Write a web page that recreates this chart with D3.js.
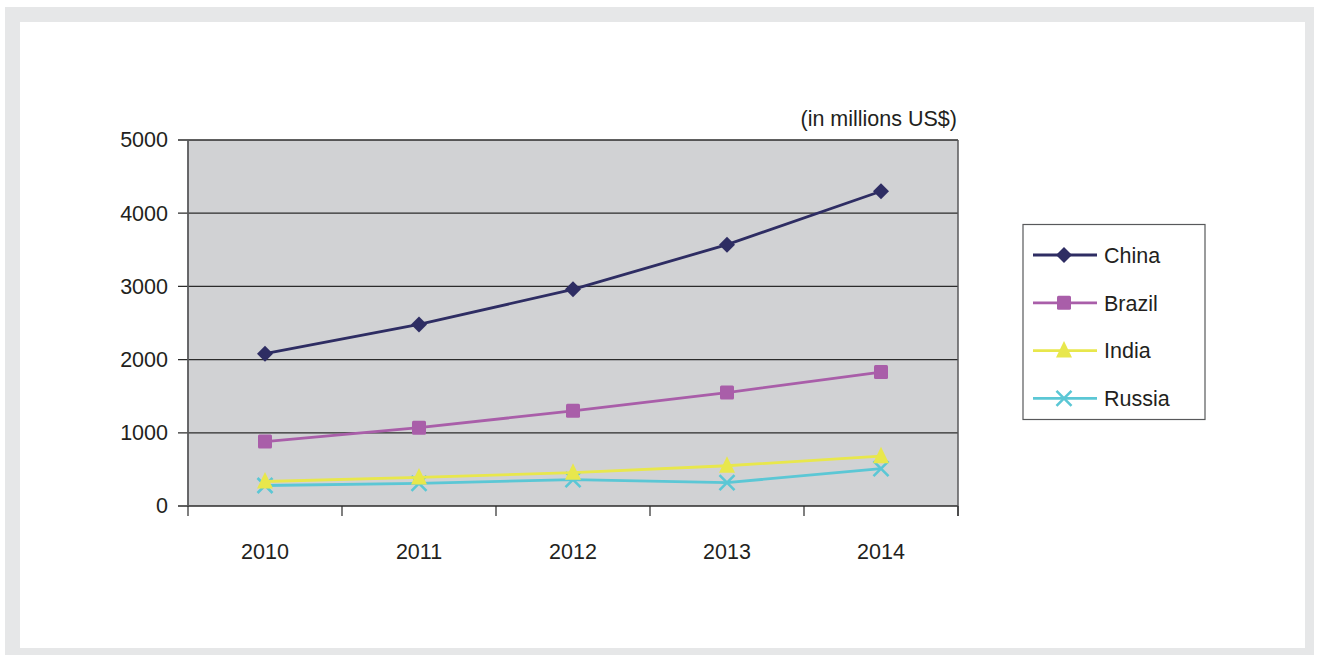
<!DOCTYPE html>
<html>
<head>
<meta charset="utf-8">
<script src="https://cdn.jsdelivr.net/npm/d3@7"></script>
<style>
  body { margin: 0; background: #fff; }
  text { font-family: "Liberation Sans", Arial, sans-serif; fill: #231f20; }
</style>
</head>
<body>
<div id="chart"></div>
<script>
let years = ['2010', '2011', '2012', '2013', '2014'];
let china = [2080, 2480, 2960, 3570, 4300];
let brazil = [880, 1070, 1300, 1550, 1830];
let india = [335, 390, 455, 550, 680];
let russia = [280, 310, 360, 320, 510];
let y_ticks = [0, 1000, 2000, 3000, 4000, 5000];

let series = [
  { name: 'China', values: china, color: '#2e2d63', marker: 'diamond' },
  { name: 'Brazil', values: brazil, color: '#a95ea9', marker: 'square' },
  { name: 'India', values: india, color: '#e8e74c', marker: 'triangle' },
  { name: 'Russia', values: russia, color: '#5bc7d5', marker: 'cross' }
];

let chart_width = 1319;
let chart_height = 659;
let plot_left = 188, plot_right = 958, plot_top = 140, plot_bottom = 506;
let font_size = '21.5px';

let svg = d3
  .select('#chart')
  .append('svg')
  .attr('width', chart_width)
  .attr('height', chart_height);

// outer frame
svg.append('rect').attr('x', 5).attr('y', 7).attr('width', 1309).attr('height', 648).attr('fill', '#e6e7e8');
svg.append('rect').attr('x', 20).attr('y', 22).attr('width', 1285).attr('height', 626).attr('fill', '#fff');

let x_scale = d3.scaleBand().domain(years).range([plot_left, plot_right]);
let y_scale = d3.scaleLinear().domain([0, 5000]).range([plot_bottom, plot_top]);

// plot background
svg.append('rect')
  .attr('x', plot_left).attr('y', plot_top)
  .attr('width', plot_right - plot_left).attr('height', plot_bottom - plot_top)
  .attr('fill', '#d1d2d4');

// grid lines
svg.append('g')
  .selectAll('line')
  .data(y_ticks)
  .enter()
  .append('line')
  .attr('x1', plot_left - 10)
  .attr('x2', plot_right)
  .attr('y1', d => y_scale(d))
  .attr('y2', d => y_scale(d))
  .attr('stroke', '#2b2b2b')
  .attr('stroke-width', 1.3);

// side borders
svg.append('line').attr('x1', plot_left).attr('x2', plot_left).attr('y1', plot_top).attr('y2', plot_bottom)
  .attr('stroke', '#58595b').attr('stroke-width', 1.8);
svg.append('line').attr('x1', plot_right).attr('x2', plot_right).attr('y1', plot_top).attr('y2', plot_bottom + 10)
  .attr('stroke', '#58595b').attr('stroke-width', 1.5);

// y axis labels
let y_axis = d3.axisLeft(y_scale).tickValues(y_ticks).tickFormat(d3.format('d')).tickSize(0).tickPadding(20);
let yg = svg.append('g')
  .attr('transform', 'translate(' + plot_left + ',0)')
  .call(y_axis);
yg.select('.domain').remove();
yg.selectAll('text').style('font-size', font_size).attr('fill', '#231f20');

// x axis boundary ticks
let bounds = years.map(d => x_scale(d)).concat([x_scale.range()[1]]);
svg.append('g')
  .selectAll('line')
  .data(bounds)
  .enter()
  .append('line')
  .attr('x1', d => d).attr('x2', d => d)
  .attr('y1', plot_bottom).attr('y2', plot_bottom + 10)
  .attr('stroke', '#2b2b2b').attr('stroke-width', 1.2);

let x_axis = d3.axisBottom(x_scale).tickSize(0).tickPadding(38);
let xg = svg.append('g')
  .attr('transform', 'translate(0,' + plot_bottom + ')')
  .call(x_axis);
xg.select('.domain').remove();
xg.selectAll('text').style('font-size', font_size).attr('fill', '#231f20');

// unit label
svg.append('text')
  .attr('x', plot_right - 1)
  .attr('y', 126)
  .attr('text-anchor', 'end')
  .style('font-size', font_size)
  .text('(in millions US$)');

function cx(i) {
  return x_scale(years[i]) + x_scale.bandwidth() / 2;
}

function drawMarker(g, type, color) {
  if (type === 'diamond') {
    g.append('path').attr('d', 'M0,-8L8,0L0,8L-8,0Z').attr('fill', color);
  } else if (type === 'square') {
    g.append('rect').attr('x', -7).attr('y', -7).attr('width', 14).attr('height', 14).attr('rx', 1.5).attr('fill', color);
  } else if (type === 'triangle') {
    g.append('path').attr('d', 'M0,-9.5L8,7L-8,7Z').attr('fill', color);
  } else {
    g.append('path').attr('d', 'M-7.5,-7.5L7.5,7.5M7.5,-7.5L-7.5,7.5').attr('stroke', color).attr('stroke-width', 2.6).attr('fill', 'none');
  }
}

let line = d3.line()
  .x((d, i) => cx(i))
  .y(d => y_scale(d));

// draw lower series first so China sits on top
series.slice().reverse().forEach(s => {
  svg.append('path')
    .datum(s.values)
    .attr('d', line)
    .attr('fill', 'none')
    .attr('stroke', s.color)
    .attr('stroke-width', 2.8);
  s.values.forEach((v, i) => {
    let g = svg.append('g').attr('transform', 'translate(' + cx(i) + ',' + y_scale(v) + ')');
    drawMarker(g, s.marker, s.color);
  });
});

// legend
let legend = svg.append('g');
legend.append('rect')
  .attr('x', 1023).attr('y', 224.5)
  .attr('width', 182).attr('height', 195)
  .attr('fill', '#fff').attr('stroke', '#58595b').attr('stroke-width', 1.2);

series.forEach((s, i) => {
  let ly = 255 + i * 47.8;
  legend.append('line')
    .attr('x1', 1033).attr('x2', 1097)
    .attr('y1', ly).attr('y2', ly)
    .attr('stroke', s.color).attr('stroke-width', 2.8);
  let g = legend.append('g').attr('transform', 'translate(1064,' + ly + ')');
  drawMarker(g, s.marker, s.color);
  legend.append('text')
    .attr('x', 1104).attr('y', ly)
    .attr('dy', '0.36em')
    .style('font-size', font_size)
    .text(s.name);
});
</script>
</body>
</html>
